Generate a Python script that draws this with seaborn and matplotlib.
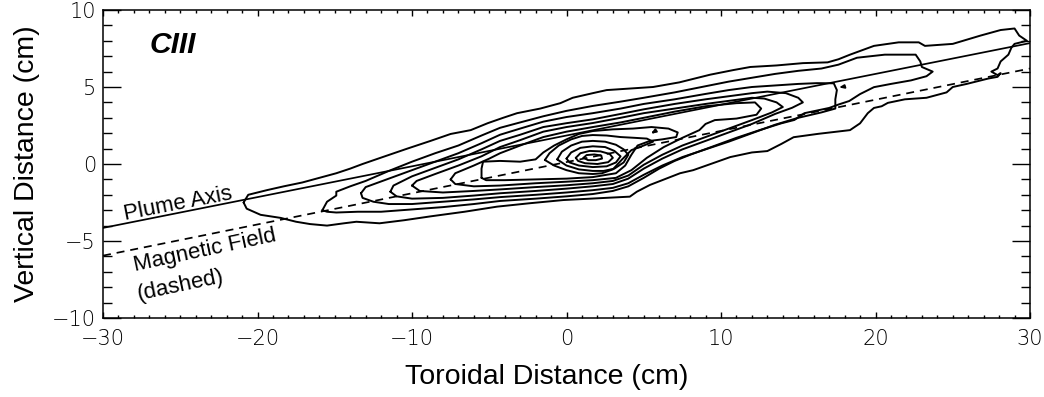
import matplotlib
matplotlib.use("Agg")
import matplotlib.pyplot as plt
from matplotlib.ticker import MultipleLocator
import pandas as pd
import seaborn as sns

# ---------------- data (cm) ----------------
xticks = [-30, -20, -10, 0, 10, 20, 30]
xtick_labels = ["\u221230", "\u221220", "\u221210", "0", "10", "20", "30"]
yticks = [-10, -5, 0, 5, 10]
ytick_labels = ["\u221210", "\u22125", "0", "5", "10"]

axis_x = [-30, 30]
axis_y = [-4.15, 7.85]
field_x = [-30, 30]
field_y = [-5.95, 6.2]

c1 = [(-20.9,-2.5),(-20.6,-2.0),(-19.4,-1.7),(-18.3,-1.45),(-17.1,-1.2),(-16.0,-0.9),(-14.9,-0.6),
      (-14.0,-0.3),(-13.2,0.0),(-11.9,0.45),(-10.3,1.0),(-8.8,1.5),(-7.5,1.95),(-6.2,2.2),(-5.1,2.65),
      (-4.1,3.0),(-3.2,3.3),(-1.7,3.6),(-0.4,3.95),(0.4,4.3),(1.7,4.6),(2.6,4.8),(4.1,4.9),(5.6,5.0),
      (7.3,5.3),(8.3,5.55),(9.3,5.8),(10.8,6.1),(11.9,6.3),(13.6,6.4),(15.3,6.55),(16.9,6.6),(17.6,6.8),
      (18.35,7.1),(19.9,7.67),(21.5,7.9),(22.8,7.9),(23.2,7.67),(25.0,7.8),(26.8,8.34),(28.1,8.7),
      (29.0,8.8),(29.3,8.34),(29.8,8.0),(29.0,7.8),(28.8,7.56),(28.6,7.1),(28.1,6.66),(27.9,6.2),
      (27.5,6.0),(27.9,5.77),(28.1,5.9),(27.9,5.66),(27.3,5.55),(25.9,5.2),(25.0,5.0),(24.6,4.65),
      (23.3,4.3),(21.9,4.2),(20.8,3.97),(20.4,3.75),(19.9,3.64),(19.5,3.3),(19.0,2.64),(18.35,2.2),
      (16.3,1.96),(14.7,1.74),(13.9,1.3),(13.0,0.84),(12.0,0.75),(10.6,0.45),(9.5,0.06),(8.2,-0.4),
      (7.35,-0.6),(5.4,-1.36),(4.55,-1.8),(4.1,-2.12),(1.95,-2.23),(-0.2,-2.34),(-2.4,-2.55),
      (-4.5,-2.77),(-6.6,-3.1),(-8.8,-3.4),(-10.5,-3.65),(-12.1,-3.85),(-13.6,-3.75),(-14.4,-3.85),
      (-15.5,-4.0),(-16.6,-3.9),(-17.5,-3.75),(-18.5,-3.5),(-19.8,-3.3),(-20.7,-2.9),(-20.9,-2.5)]
c2 = [(-15.8,-3.0),(-15.5,-2.45),(-14.9,-2.05),(-14.9,-1.8),(-14.0,-1.45),(-13.0,-1.1),(-11.5,-0.45),
      (-10.0,0.15),(-8.5,0.7),(-7.0,1.2),(-5.5,1.85),(-4.3,2.35),(-3.0,2.7),(-1.5,3.1),(0.0,3.45),
      (1.7,3.77),(3.5,4.05),(5.0,4.3),(7.0,4.65),(9.0,5.05),(10.5,5.35),(12.0,5.6),(13.5,5.85),
      (15.0,6.05),(16.5,6.2),(17.6,6.45),(18.8,6.9),(20.6,7.1),(22.6,7.1),(22.9,6.66),(23.0,6.3),
      (23.7,6.0),(23.3,5.7),(22.3,5.43),(21.0,5.2),(19.9,4.99),(19.0,4.54),(18.3,4.09),(17.6,3.86),
      (17.0,3.64),(15.4,3.3),(14.75,2.86),(13.9,2.64),(12.5,2.2),(11.0,1.7),(9.5,1.15),(8.0,0.6),
      (7.0,0.2),(6.0,-0.3),(5.0,-0.9),(4.0,-1.45),(3.0,-1.75),(1.7,-1.95),(0.0,-2.1),(-2.0,-2.25),
      (-4.3,-2.4),(-6.0,-2.6),(-8.0,-2.8),(-10.0,-2.95),(-12.0,-3.1),(-13.5,-3.1),(-14.9,-3.15),
      (-15.5,-3.1),(-15.8,-3.0)]
c3 = [(-13.3,-1.9),(-13.0,-1.5),(-11.5,-0.95),(-10.0,-0.4),(-8.5,0.15),(-7.0,0.7),(-5.5,1.35),
      (-4.3,1.9),(-3.0,2.3),(-1.5,2.75),(0.0,3.05),(1.7,3.3),(3.5,3.6),(5.0,3.9),(7.0,4.2),(9.0,4.55),
      (10.5,4.8),(12.0,5.0),(13.5,5.1),(15.0,5.2),(16.2,5.25),(17.3,5.24),(17.5,4.8),(17.4,4.2),
      (17.4,3.6),(16.5,3.35),(15.0,3.0),(13.5,2.55),(12.0,2.0),(10.5,1.45),(9.0,0.95),(7.5,0.45),
      (6.2,-0.1),(5.0,-0.7),(4.0,-1.25),(3.0,-1.55),(1.7,-1.7),(0.0,-1.85),(-2.0,-2.0),(-4.3,-2.15),
      (-6.0,-2.3),(-8.0,-2.45),(-10.0,-2.6),(-11.5,-2.6),(-12.5,-2.45),(-13.2,-2.2),(-13.3,-1.9)]
c4 = [(-11.4,-1.8),(-11.2,-1.4),(-10.0,-0.8),(-8.5,-0.25),(-7.0,0.3),(-5.5,0.95),(-4.3,1.5),
      (-3.0,1.9),(-1.5,2.4),(0.0,2.65),(1.7,2.9),(3.5,3.25),(5.0,3.55),(7.0,3.9),(9.0,4.2),(10.5,4.4),
      (12.0,4.6),(13.0,4.7),(14.2,4.6),(15.0,4.3),(15.3,4.0),(14.6,3.65),(13.5,3.25),(12.0,2.6),
      (10.5,2.05),(9.0,1.5),(7.5,0.95),(6.2,0.35),(5.0,-0.3),(4.0,-0.95),(3.0,-1.3),(1.7,-1.45),
      (0.0,-1.6),(-2.0,-1.75),(-4.3,-1.9),(-6.0,-2.05),(-8.0,-2.2),(-10.0,-2.25),(-11.0,-2.1),
      (-11.4,-1.8)]
c5 = [(-10.0,-1.4),(-9.7,-1.1),(-8.5,-0.65),(-7.0,-0.1),(-5.5,0.5),(-4.3,1.1),(-3.0,1.55),
      (-1.5,2.1),(0.0,2.4),(1.7,2.66),(3.5,3.0),(5.0,3.3),(7.0,3.6),(9.0,3.9),(10.5,4.1),(12.0,4.3),
      (12.8,4.25),(13.6,4.0),(14.0,3.7),(13.3,3.35),(12.0,2.85),(10.5,2.3),(9.0,1.75),(7.5,1.2),
      (6.2,0.6),(5.0,-0.05),(4.0,-0.75),(3.0,-1.1),(1.7,-1.25),(0.0,-1.38),(-2.0,-1.5),(-4.3,-1.65),
      (-6.0,-1.75),(-8.0,-1.85),(-9.5,-1.75),(-10.0,-1.4)]
c6 = [(-7.5,-1.0),(-7.2,-0.6),(-6.0,-0.1),(-5.0,0.35),(-4.3,0.7),(-3.0,1.2),(-1.5,1.75),(0.0,2.1),
      (1.7,2.4),(3.5,2.7),(5.0,3.0),(7.0,3.4),(9.0,3.75),(11.0,3.95),(12.2,4.0),(12.6,3.6),(12.3,3.2),
      (11.0,2.95),(9.6,2.85),(9.0,2.6),(8.6,2.2),(7.5,1.7),(6.3,1.1),(5.2,0.4),(4.2,-0.4),(3.2,-0.9),
      (1.7,-1.05),(0.0,-1.15),(-2.0,-1.25),(-4.3,-1.4),(-6.0,-1.45),(-7.2,-1.3),(-7.5,-1.0)]
c7 = [(-5.5,-0.9),(-5.5,-0.3),(-5.4,0.15),(-4.3,0.2),(-3.0,0.15),(-2.0,0.3),(-1.5,0.75),(-0.8,1.2),
      (0.0,1.6),(0.8,1.95),(1.7,2.14),(3.0,2.25),(4.3,2.3),(5.5,2.4),(6.6,2.3),(7.2,2.05),(7.1,1.75),
      (6.2,1.6),(5.4,1.5),(4.6,1.2),(4.2,0.6),(3.8,-0.1),(3.2,-0.6),(1.7,-0.85),(0.0,-0.95),
      (-2.0,-1.0),(-4.0,-1.05),(-5.2,-1.05),(-5.5,-0.9)]
c8 = [(-1.4,0.26),(-1.1,0.7),(-0.5,1.2),(0.3,1.6),(1.0,1.82),(1.7,1.88),(2.6,1.85),(3.5,1.75),
      (4.4,1.7),(5.2,1.65),(5.6,1.45),(5.0,1.2),(4.2,0.9),(3.6,0.3),(3.0,-0.35),(2.3,-0.6),(1.7,-0.65),
      (0.8,-0.6),(0.0,-0.4),(-0.8,-0.1),(-1.4,0.26)]
c9 = [(-0.6,0.3),(-0.3,0.8),(0.3,1.2),(1.0,1.45),(1.7,1.5),(2.5,1.45),(3.2,1.25),(3.7,0.95),(4.0,0.6),
      (3.7,0.1),(3.1,-0.3),(2.4,-0.45),(1.7,-0.45),(0.8,-0.35),(0.0,-0.1),(-0.6,0.3)]
c10 = [(0.0,0.35),(0.3,0.75),(0.9,1.05),(1.7,1.15),(2.5,1.1),(3.1,0.85),(3.5,0.5),(3.2,0.1),
       (2.6,-0.15),(1.7,-0.2),(0.8,-0.1),(0.2,0.1),(0.0,0.35)]
c11 = [(0.6,0.4),(0.9,0.7),(1.5,0.85),(2.2,0.82),(2.8,0.65),(3.0,0.4),(2.7,0.12),(2.0,0.0),(1.2,0.05),
       (0.75,0.2),(0.6,0.4)]
c12 = [(1.1,0.4),(1.3,0.58),(1.8,0.62),(2.25,0.55),(2.3,0.35),(1.9,0.25),(1.4,0.25),(1.1,0.4)]
c13 = [(17.8,5.0),(18.0,5.12),(18.05,4.95),(17.8,5.0)]
c14 = [(5.6,2.05),(5.75,2.25),(5.85,2.1),(5.6,2.05)]
contours = [c1, c2, c3, c4, c5, c6, c7, c8, c9, c10, c11, c12, c13, c14]

# ---------------- figure ----------------
sns.set_theme(style="ticks")
plt.rcParams["font.family"] = ["Liberation Sans", "DejaVu Sans"]
plt.rcParams.update({"text.color": "black", "axes.labelcolor": "black",
                     "xtick.color": "black", "ytick.color": "black",
                     "axes.edgecolor": "black"})

fig = plt.figure(figsize=(10.44, 3.97), dpi=100)
ax = fig.add_axes([103/1044, 1-318/397, 927/1044, 308/397])

rows = []
for k, c in enumerate(contours):
    for i, (x, y) in enumerate(c):
        rows.append({"level": k, "order": i, "x": x, "y": y})
df = pd.DataFrame(rows)
sns.lineplot(data=df, x="x", y="y", units="level", estimator=None, sort=False,
             color="black", lw=1.4, ax=ax, legend=False)

sns.lineplot(x=axis_x, y=axis_y, color="black", lw=1.25, ax=ax)
sns.lineplot(x=field_x, y=field_y, color="black", lw=1.25, ax=ax, linestyle=(0, (4.6, 3.4)))

ax.set_xlim(-30, 30)
ax.set_ylim(-10, 10)
tick_font = dict(fontfamily="DejaVu Sans", fontweight=200, fontsize=15)
ax.set_xticks(xticks, labels=xtick_labels, **tick_font)
ax.set_yticks(yticks, labels=ytick_labels, **tick_font)
ax.xaxis.set_minor_locator(MultipleLocator(1))
ax.yaxis.set_minor_locator(MultipleLocator(1))
ax.tick_params(which="both", direction="in", top=True, right=True, color="black", width=1.0)
ax.tick_params(axis="x", which="major", length=4.4, pad=8)
ax.tick_params(axis="x", which="minor", length=2.2)
ax.tick_params(axis="y", which="major", length=13.3, pad=5)
ax.tick_params(axis="y", which="minor", length=6.7)
for s in ax.spines.values():
    s.set_linewidth(1.1)
    s.set_color("black")

ax.set_xlabel("Toroidal Distance (cm)", fontsize=20.5)
ax.set_ylabel("Vertical Distance (cm)", fontsize=20.5)
ax.xaxis.set_label_coords((547-103)/927, -0.149)
ax.yaxis.set_label_coords(-0.068, 0.5)

ax.text(-26.96, 7.2, "CIII", fontsize=21.5, fontweight="bold", fontstyle="italic", ha="left", va="baseline")
ax.text(-25.15, -2.6, "Plume Axis", fontsize=16, rotation=11, rotation_mode="anchor", ha="center", va="center")
ax.text(-23.4, -5.6, "Magnetic Field", fontsize=16, rotation=12, rotation_mode="anchor", ha="center", va="center")
ax.text(-25.0, -7.9, "(dashed)", fontsize=16, rotation=12, rotation_mode="anchor", ha="center", va="center")

fig.savefig("out.png", dpi=100, facecolor="white")
